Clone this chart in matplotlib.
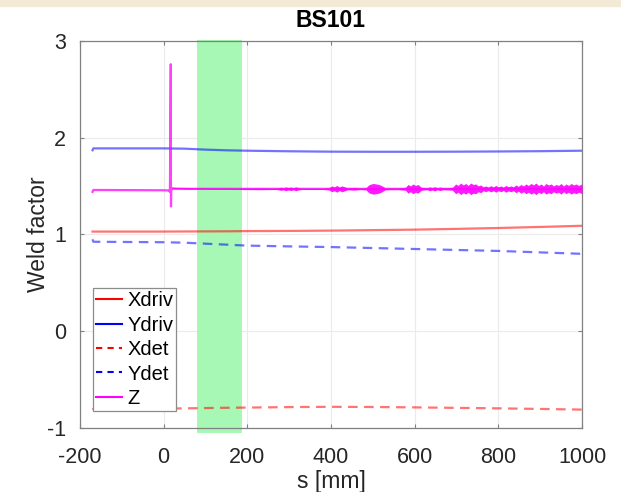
import numpy as np
import matplotlib
matplotlib.use("Agg")
import matplotlib.pyplot as plt
from matplotlib.lines import Line2D
from matplotlib.patches import Rectangle

plt.rcParams["font.family"] = ["Liberation Sans", "DejaVu Sans"]
plt.rcParams["axes.unicode_minus"] = False

# --- data ------------------------------------------------------------------
s_drv = [-170, -168, 0, 50, 100, 150, 200, 300, 400, 500, 600, 700, 800, 900, 1000]
ydriv = [1.87, 1.89, 1.89, 1.887, 1.877, 1.87, 1.866, 1.86, 1.856, 1.855, 1.855, 1.856, 1.858, 1.861, 1.866]
xdriv = [1.03, 1.03, 1.03, 1.031, 1.032, 1.033, 1.035, 1.037, 1.04, 1.045, 1.05, 1.058, 1.067, 1.078, 1.09]
ydet = [0.95, 0.925, 0.92, 0.915, 0.905, 0.895, 0.885, 0.877, 0.87, 0.86, 0.85, 0.84, 0.83, 0.815, 0.80]
xdet = [-0.81, -0.80, -0.80, -0.797, -0.794, -0.791, -0.789, -0.784, -0.781, -0.783, -0.787, -0.792, -0.797, -0.803, -0.81]

s_z = [-170, -168, 0, 12, 15, 17, 17.5, 18, 19, 22, 30, 60, 200, 1000]
z = [1.44, 1.46, 1.457, 1.455, 1.44, 2.76, 1.29, 1.45, 1.48, 1.476, 1.474, 1.472, 1.472, 1.472]

# half-width of the noisy band on Z (s > 20 mm)
z_env_s = [20, 180, 230, 270, 280, 286, 292, 298, 304, 310, 316, 322, 330, 380, 395,
           402, 408, 414, 420, 426, 432, 440, 455, 470, 484, 490, 496, 502, 508, 514,
           520, 530, 560, 578, 584, 590, 596, 602, 608, 616, 630, 636, 642, 648, 654,
           660, 668, 690, 698, 704, 710, 716, 722, 728, 734, 740, 746, 752, 758, 764,
           770, 776, 782, 788, 794, 800, 806, 812, 818, 824, 830, 836, 842, 848, 854,
           860, 866, 872, 878, 884, 890, 896, 902, 908, 914, 920, 926, 932, 938, 944,
           950, 956, 962, 968, 974, 980, 986, 992, 1000]
z_env = [0.007, 0.007, 0.009, 0.007, 0.016, 0.01, 0.02, 0.012, 0.018, 0.01, 0.02, 0.012, 0.007, 0.007, 0.012,
         0.03, 0.02, 0.035, 0.018, 0.03, 0.022, 0.01, 0.014, 0.008, 0.012, 0.04, 0.05, 0.055, 0.05, 0.045,
         0.035, 0.01, 0.009, 0.015, 0.045, 0.03, 0.05, 0.035, 0.045, 0.015, 0.01, 0.02, 0.012, 0.022, 0.01,
         0.018, 0.01, 0.014, 0.05, 0.035, 0.06, 0.04, 0.055, 0.035, 0.06, 0.045, 0.05, 0.03, 0.04, 0.02,
         0.03, 0.018, 0.032, 0.02, 0.035, 0.02, 0.03, 0.018, 0.035, 0.022, 0.03, 0.02, 0.04, 0.025, 0.045,
         0.03, 0.05, 0.035, 0.055, 0.04, 0.06, 0.035, 0.05, 0.03, 0.055, 0.04, 0.05, 0.03, 0.045, 0.035,
         0.055, 0.03, 0.05, 0.035, 0.055, 0.04, 0.05, 0.035, 0.05]

span = (80, 188)
xticks = [-200, 0, 200, 400, 600, 800, 1000]
yticks = [-1, 0, 1, 2, 3]

fig = plt.figure(figsize=(6.21, 4.92), dpi=100)
fig.patches.append(Rectangle((0, 0.988), 1, 0.012, transform=fig.transFigure,
                             color="#f2ead4", zorder=0))
ax = fig.add_axes([0.1288, 0.1301, 0.8084, 0.7866])

ax.axvspan(span[0], span[1], ymin=-0.013, ymax=1.003, color="#a6f8b4",
           clip_on=False, zorder=1, lw=0)

lw = 1.6
dash = (0, (4.3, 2.9))
ax.plot(s_drv, xdriv, color="#ff0000", alpha=0.55, lw=lw, zorder=2)
ax.plot(s_drv, ydriv, color="#0000ff", alpha=0.55, lw=lw, zorder=2)
ax.plot(s_drv, xdet, color="#ff0000", alpha=0.55, lw=lw, ls=dash, zorder=2)
ax.plot(s_drv, ydet, color="#0000ff", alpha=0.55, lw=lw, ls=dash, zorder=2)
ax.plot(s_z, z, color="#ff00ff", alpha=0.75, lw=lw, zorder=3)
z_base = np.interp(z_env_s, s_z, z)
ax.fill_between(z_env_s, z_base - np.array(z_env), z_base + np.array(z_env),
                color="#ff00ff", alpha=0.9, lw=0, zorder=3)

ax.set_xlim(-200, 1000)
ax.set_ylim(-1, 3)
ax.set_xticks(xticks)
ax.set_yticks(yticks)
ax.grid(True, color="#ebebeb", lw=0.8)
ax.set_axisbelow(True)
ax.tick_params(direction="in", length=3, width=0.8, color="#808080",
               top=True, right=True, labelsize=15.5, labelcolor="#262626")
ax.tick_params(axis="x", pad=14)
ax.tick_params(axis="y", pad=10)
for sp in ax.spines.values():
    sp.set_color("#808080")
    sp.set_linewidth(0.9)

ax.set_title("BS101", fontsize=16.5, fontweight="bold", pad=10)
ax.set_xlabel("s [mm]", fontsize=16.5, color="#262626", labelpad=1)
ax.set_ylabel("Weld factor", fontsize=16.5, color="#262626", labelpad=-2.5)

handles = [
    Line2D([], [], color="#ff0000", lw=1.5),
    Line2D([], [], color="#0000ff", lw=1.5),
    Line2D([], [], color="#ff0000", lw=1.5, ls=(0, (3, 2.5))),
    Line2D([], [], color="#0000ff", lw=1.5, ls=(0, (3, 2.5))),
    Line2D([], [], color="#ff00ff", lw=1.5),
]
leg = ax.legend(handles, ["Xdriv", "Ydriv", "Xdet", "Ydet", "Z"],
                loc="lower left", bbox_to_anchor=(0.026, 0.044), borderaxespad=0,
                fontsize=14.5, fancybox=False, framealpha=1, edgecolor="#8c8c8c",
                handlelength=1.3, handletextpad=0.25, labelspacing=0.27,
                borderpad=0.15)
leg.get_frame().set_linewidth(0.9)
leg.set_zorder(5)

fig.savefig("out.png", dpi=100)
